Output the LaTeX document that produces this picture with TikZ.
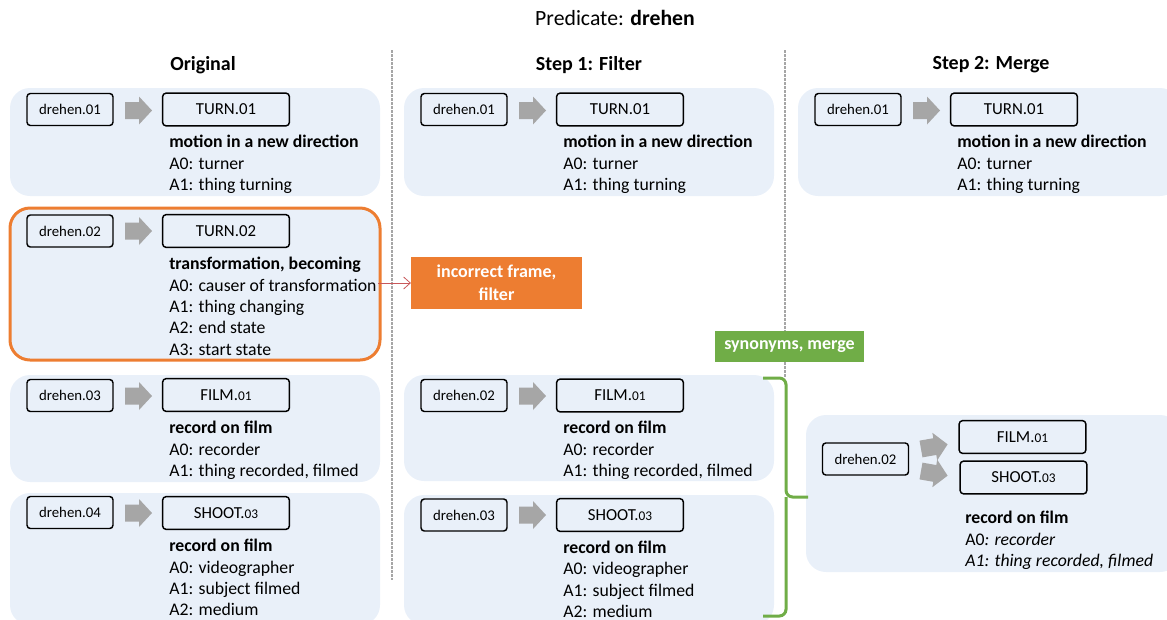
\documentclass[tikz,border=0pt]{standalone}
\usepackage{fontspec}
\setmainfont{Carlito}
\usetikzlibrary{arrows.meta}
\definecolor{panelblue}{HTML}{E9F0F9}
\definecolor{framered}{HTML}{ED7D31}
\definecolor{mergegreen}{HTML}{70AD47}
\definecolor{arrowgray}{HTML}{A6A6A6}
\definecolor{linered}{HTML}{C8585A}
\newcommand{\osn}[1]{{\fontsize{10}{12}\selectfont #1}}
\tikzset{blockarrow/.pic={\fill[arrowgray] (0,-8.5) -- (14,-8.5) -- (14,-14) -- (27,0) -- (14,14) -- (14,8.5) -- (0,8.5) -- cycle;}}

\begin{document}
\begin{tikzpicture}[x=0.75pt, y=-0.75pt,
    panel/.style={fill=panelblue, rounded corners=15pt},
    sense/.style={draw, line width=1.1pt, rounded corners=2.5pt, minimum width=64.5pt, minimum height=24pt, inner sep=0pt, font=\fontsize{11.1}{13}\selectfont},
    roleset/.style={sense, minimum width=95pt, minimum height=24.5pt, font=\fontsize{12.6}{14}\selectfont},
    desc/.style={anchor=north west, align=left, inner sep=0pt, font=\fontsize{13.3}{16}\selectfont, execute at begin node=\rule{0pt}{10pt}},
    notebox/.style={text=white, inner sep=0pt, align=center, font=\fontsize{13.5}{17}\selectfont\bfseries},
    head/.style={font=\fontsize{15}{17}\selectfont\bfseries},
    divider/.style={arrowgray, line width=1.1pt, dash pattern=on 2pt off 1pt}]
    \useasboundingbox (0,0) rectangle (1167,619);

    \node[font=\fontsize{16.3}{19}\selectfont] (title) at (615,18) {Predicate: \textbf{drehen}};
    \node[head] (hOrig) at (203,65) {Original};
    \node[head] (hFilter) at (589,65) {Step 1: Filter};
    \node[head] (hMerge) at (991,65) {Step 2: Merge};

    \draw[divider] (392,50) -- (392,580);
    \draw[divider] (785,50) -- (785,378);

    \path[panel] (10,88) rectangle (380,196);
    \path[panel, draw=framered, line width=2.25pt] (10,208) rectangle (380,360);
    \path[panel] (10,375) rectangle (380,482);
    \path[panel] (10,493) rectangle (380,625);
    \path[panel] (404,88) rectangle (774,196);
    \path[panel] (404,375) rectangle (774,481);
    \path[panel] (404,495) rectangle (774,625);
    \path[panel] (798,88) rectangle (1180,196);
    \path[panel] (806,415) rectangle (1180,572);

    % Original
    \node[sense] (o1) at (70,109.5) {drehen.01};
    \pic at (125,110.5) {blockarrow};
    \node[roleset] (or1) at (226,109.5) {TURN.01};
    \node[desc] (od1) at (169,135.2) {\textbf{motion in a new direction}\\A0: turner\\A1: thing turning};

    \node[sense] (o2) at (70,231) {drehen.02};
    \pic at (125,231) {blockarrow};
    \node[roleset] (or2) at (226,231) {TURN.02};
    \node[desc] (od2) at (169,257.2) {\textbf{transformation, becoming}\\A0: causer of transformation\\A1: thing changing\\A2: end state\\A3: start state};

    \node[sense] (o3) at (70,395.5) {drehen.03};
    \pic at (125,396) {blockarrow};
    \node[roleset] (or3) at (226,395) {FILM.\osn{01}};
    \node[desc] (od3) at (169,421.2) {\textbf{record on film}\\A0: recorder\\A1: thing recorded, filmed};

    \node[sense] (o4) at (70,512.5) {drehen.04};
    \pic at (125,513) {blockarrow};
    \node[roleset] (or4) at (226,513) {SHOOT.\osn{03}};
    \node[desc] (od4) at (169,539.2) {\textbf{record on film}\\A0: videographer\\A1: subject filmed\\A2: medium};

    % Step 1
    \node[sense] (f1) at (464,109.5) {drehen.01};
    \pic at (519,110.5) {blockarrow};
    \node[roleset] (fr1) at (620,109.5) {TURN.01};
    \node[desc] (fd1) at (563,135.2) {\textbf{motion in a new direction}\\A0: turner\\A1: thing turning};

    \node[sense] (f2) at (464,395.5) {drehen.02};
    \pic at (519,396) {blockarrow};
    \node[roleset] (fr2) at (620,395.5) {FILM.\osn{01}};
    \node[desc] (fd2) at (563,421.2) {\textbf{record on film}\\A0: recorder\\A1: thing recorded, filmed};

    \node[sense] (f3) at (464,515) {drehen.03};
    \pic at (519,515) {blockarrow};
    \node[roleset] (fr3) at (620,515) {SHOOT.\osn{03}};
    \node[desc] (fd3) at (563,540.7) {\textbf{record on film}\\A0: videographer\\A1: subject filmed\\A2: medium};

    % Step 2
    \node[sense] (m1) at (858,109.5) {drehen.01};
    \pic at (913,110.5) {blockarrow};
    \node[roleset] (mr1) at (1014,109.5) {TURN.01};
    \node[desc] (md1) at (957,135.2) {\textbf{motion in a new direction}\\A0: turner\\A1: thing turning};

    \node[sense] (m2) at (865.5,459) {drehen.02};
    \pic[rotate=10] at (921,449) {blockarrow};
    \pic[rotate=-10] at (921,471) {blockarrow};
    \node[roleset] (mr2) at (1022.5,437) {FILM.\osn{01}};
    \node[roleset] (mr3) at (1023.5,477.5) {SHOOT.\osn{03}};
    \node[desc] (md2) at (965,511.2) {\textbf{record on film}\\A0\textit{: recorder}\\\textit{A1: thing recorded, filmed}};

    % notes
    \node[notebox, fill=framered, minimum width=128pt, minimum height=39pt] (filter) at (496.5,283) {incorrect frame,\\filter};
    \coordinate (o2edge) at (378,283);
    \draw[linered, line width=0.6pt, -{Straight Barb[length=5pt, width=9pt]}] (o2edge) -- (filter.west);
    \node[notebox, fill=mergegreen, minimum width=112pt, minimum height=23pt] (merge) at (789.5,346.5) {synonyms, merge};
    \draw[mergegreen, line width=2.25pt, rounded corners=5pt] (763,378) -- (786,378) -- (786,497) -- (808,497);
    \draw[mergegreen, line width=2.25pt, rounded corners=5pt] (763,616) -- (786,616) -- (786,497);
\end{tikzpicture}
\end{document}
